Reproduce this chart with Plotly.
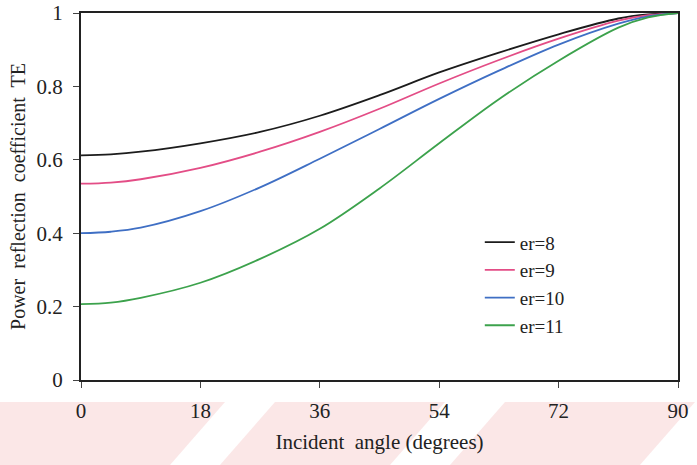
import plotly.graph_objects as go

# ---- data ----
angle = [0, 4.5, 9, 18, 27, 36, 45, 54, 63, 72, 81, 85.5, 90]
er8 = [0.612, 0.615, 0.622, 0.645, 0.676, 0.720, 0.776, 0.838, 0.892, 0.942, 0.985, 0.996, 1.0]
er9 = [0.535, 0.538, 0.547, 0.578, 0.622, 0.676, 0.739, 0.808, 0.872, 0.930, 0.979, 0.994, 1.0]
er10 = [0.400, 0.404, 0.415, 0.460, 0.525, 0.603, 0.684, 0.766, 0.843, 0.914, 0.971, 0.991, 1.0]
er11 = [0.207, 0.211, 0.224, 0.265, 0.330, 0.412, 0.522, 0.645, 0.765, 0.870, 0.960, 0.988, 1.0]
names = ["er=8", "er=9", "er=10", "er=11"]
series = [er8, er9, er10, er11]
colors = ["#1c1c1c", "#e34d86", "#3f6fc4", "#3ca24c"]
x_ticks = [0, 18, 36, 54, 72, 90]
y_ticks = [0, 0.2, 0.4, 0.6, 0.8, 1]

W, H = 697, 465
ML, MR, MT, MB = 81, 19, 13, 85
PW, PH = W - ML - MR, H - MT - MB

fig = go.Figure()
for nm, ys, c in zip(names, series, colors):
    fig.add_trace(go.Scatter(x=angle, y=ys, mode="lines", name=nm,
                             line=dict(color=c, width=1.8, shape="spline", smoothing=1.0)))

# faint pink scan watermark stripes below the plot (decoration)
def px2paper(px, py):
    return (px - ML) / PW, (H - MB - py) / PH

shapes = []
stripes = [(-60, 170), (220, 390), (450, 640), (700, 800)]
for x0, x1 in stripes:
    pts = [(x0, 465), (x1, 465), (x1 + 55, 402), (x0 + 55, 402)]
    pp = [px2paper(a, b) for a, b in pts]
    path = "M " + " L ".join(f"{a:.4f},{b:.4f}" for a, b in pp) + " Z"
    shapes.append(dict(type="path", xref="paper", yref="paper", path=path,
                       fillcolor="rgba(240,170,170,0.28)", line=dict(width=0),
                       layer="below"))

font = "Liberation Serif"
fig.update_layout(
    width=W, height=H,
    margin=dict(l=ML, r=MR, t=MT, b=MB, autoexpand=False),
    paper_bgcolor="white", plot_bgcolor="white",
    font=dict(family=font, size=19, color="#222"),
    showlegend=True,
    legend=dict(x=0.668, y=0.427, xanchor="left", yanchor="top",
                bgcolor="rgba(0,0,0,0)", font=dict(size=19, family=font, color="#222"),
                tracegroupgap=0),
    shapes=shapes,
    xaxis=dict(range=[0, 90], tickvals=x_ticks, ticktext=[str(v) for v in x_ticks],
               showgrid=False, zeroline=False, showline=True, linecolor="#222",
               linewidth=2, mirror=True, ticks="outside", ticklen=6, tickcolor="#444",
               tickfont=dict(size=21, family=font), ticklabelstandoff=5, automargin=False,
               title=dict(text="Incident  angle (degrees)", font=dict(size=21, family=font), standoff=12)),
    yaxis=dict(range=[0, 1], tickvals=y_ticks, ticktext=["0", "0.2", "0.4", "0.6", "0.8", "1"],
               showgrid=False, zeroline=False, showline=True, linecolor="#222",
               linewidth=2, mirror=True, ticks="outside", ticklen=6, tickcolor="#444",
               tickfont=dict(size=21, family=font), ticklabelstandoff=6, automargin=False,
               title=dict(text="Power  reflection  coefficient  TE", font=dict(size=20, family=font), standoff=6)),
)

fig.write_html("out.html")
